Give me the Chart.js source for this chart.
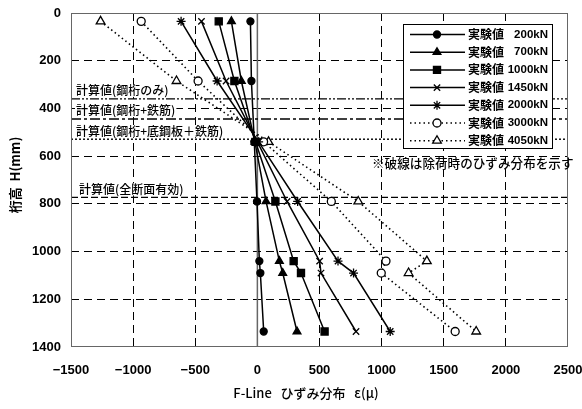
<!DOCTYPE html>
<html>
<head>
<meta charset="utf-8">
<script src="https://cdn.jsdelivr.net/npm/chart.js@4/dist/chart.umd.min.js"></script>
<style>
  html, body { margin: 0; padding: 0; background: #fff; }
  #wrap { width: 582px; height: 409px; }
</style>
</head>
<body>
<div id="wrap"><canvas id="myChart" width="582" height="409"></canvas></div>
<script>
// heights of the gauges (mm)
const heights = [35, 285, 540, 790, 1040, 1090, 1335];

// strain values (micro) per load step
const loads = ['200kN', '700kN', '1000kN', '1450kN', '2000kN', '3000kN', '4050kN'];
const s200  = [-56, -48, -25, -3, 16, 24, 51];
const s700  = [-209, -129, -20, 70, 177, 204, 319];
const s1000 = [-311, -185, -15, 145, 292, 351, 541];
const s1450 = [-450, -252, 0, 239, 501, 512, 794];
const s2000 = [-614, -324, 10, 324, 649, 774, 1069];
const s3000 = [-935, -477, 50, 595, 1035, 997, 1592];
const s4050 = [-1262, -651, 90, 812, 1364, 1217, 1761];

// calculated neutral axis positions (mm)
const refNames = ['計算値(鋼桁のみ)', '計算値(鋼桁+鉄筋)', '計算値(鋼桁+底鋼板＋鉄筋)', '計算値(全断面有効)'];
const refHeights = [360, 444, 529, 773];

const xTicks = [-1500, -1000, -500, 0, 500, 1000, 1500, 2000, 2500];
const yTicks = [0, 200, 400, 600, 800, 1000, 1200, 1400];

const JP = '"Noto Sans CJK JP", "Noto Sans", sans-serif';
const NUM = '"Liberation Sans", Arial, sans-serif';

function toPoints(values) {
    return values.map((v, i) => ({ x: v, y: heights[i] }));
}

const seriesValues = [s200, s700, s1000, s1450, s2000, s3000, s4050];
const markerStyles = ['circle', 'triangle', 'rect', 'crossRot', 'star', 'circle', 'triangle'];
const markerSizes = [3.5, 4.5, 5, 4.5, 4.5, 4, 5];

const datasets = seriesValues.map((vals, i) => {
    const dotted = i >= 5;
    return {
        label: '実験値 ' + loads[i],
        data: toPoints(vals),
        showLine: true,
        borderColor: '#000',
        borderWidth: dotted ? 1.6 : 1.5,
        borderDash: dotted ? [1.5, 3] : [],
        pointStyle: markerStyles[i],
        pointRadius: markerSizes[i],
        pointBorderWidth: 1.3,
        pointBorderColor: '#000',
        pointBackgroundColor: dotted ? '#fff' : '#000',
        isSeries: true
    };
});

const refDashes = [[9, 2, 2, 2, 2, 2], [10, 3, 3, 3], [2, 2], [7, 3]];
refHeights.forEach((h, i) => {
    datasets.push({
        label: refNames[i],
        data: [{ x: xTicks[0], y: h }, { x: xTicks[xTicks.length - 1], y: h }],
        showLine: true,
        borderColor: '#000',
        borderWidth: 1.4,
        borderDash: refDashes[i],
        pointRadius: 0,
        isSeries: false
    });
});

// zero strain line
datasets.push({
    label: 'zero',
    data: [{ x: 0, y: yTicks[0] }, { x: 0, y: yTicks[yTicks.length - 1] }],
    showLine: true,
    borderColor: '#666',
    borderWidth: 1.5,
    pointRadius: 0,
    isSeries: false
});

const decorPlugin = {
    id: 'decor',
    afterDatasetsDraw(chart) {
        const ctx = chart.ctx;
        const area = chart.chartArea;
        const ys = chart.scales.y;
        ctx.save();

        // frame
        ctx.strokeStyle = '#666';
        ctx.lineWidth = 1;
        ctx.setLineDash([]);
        ctx.strokeRect(area.left + 0.5, area.top + 0.5, area.right - area.left - 1, area.bottom - area.top - 1);

        // calculated value labels
        ctx.font = '500 12px ' + JP;
        ctx.textBaseline = 'middle';
        ctx.textAlign = 'left';
        const labelX = [76, 76, 76, 79];
        refHeights.forEach((h, i) => {
            const y = ys.getPixelForValue(h) - 8;
            const w = ctx.measureText(refNames[i]).width;
            ctx.fillStyle = '#fff';
            ctx.fillRect(labelX[i] - 1, y - 6, w + 2, 12);
            ctx.fillStyle = '#000';
            ctx.fillText(refNames[i], labelX[i], y);
        });

        // legend box
        const lx = 403, ly = 24, lw = 149, lh = 124;
        ctx.fillStyle = '#fff';
        ctx.fillRect(lx, ly, lw, lh);
        ctx.strokeStyle = '#000';
        ctx.lineWidth = 1;
        ctx.strokeRect(lx + 0.5, ly + 0.5, lw, lh);
        const series = chart.data.datasets.filter(d => d.isSeries);
        series.forEach((d, i) => {
            const y = ly + 10.5 + i * 17.7;
            ctx.strokeStyle = '#000';
            ctx.lineWidth = d.borderWidth;
            ctx.setLineDash(d.borderDash);
            ctx.beginPath();
            ctx.moveTo(lx + 7, y);
            ctx.lineTo(lx + 62, y);
            ctx.stroke();
            ctx.setLineDash([]);
            ctx.fillStyle = d.pointBackgroundColor;
            ctx.lineWidth = d.pointBorderWidth;
            Chart.helpers.drawPoint(ctx, {
                pointStyle: d.pointStyle,
                radius: d.pointRadius,
                rotation: 0,
                borderWidth: d.pointBorderWidth
            }, lx + 34, y);
            ctx.fillStyle = '#000';
            ctx.font = 'bold 12px ' + JP;
            ctx.textAlign = 'left';
            ctx.fillText('実験値', lx + 65, y);
            ctx.font = 'bold 11.5px ' + NUM;
            ctx.textAlign = 'right';
            ctx.fillText(loads[i], lx + 145, y);
        });

        // note
        ctx.fillStyle = '#000';
        ctx.font = '500 12.6px ' + JP;
        ctx.textAlign = 'left';
        ctx.fillText('※破線は除荷時のひずみ分布を示す', 372, 163);

        // axis titles
        ctx.font = '500 13px ' + JP;
        ctx.textAlign = 'center';
        ctx.fillText('F-Line   ひずみ分布   ε(μ)', 306, 393);
        ctx.save();
        ctx.translate(15, 175);
        ctx.rotate(-Math.PI / 2);
        ctx.font = 'bold 13px ' + JP;
        ctx.fillText('桁高  H(mm)', 0, 0);
        ctx.restore();

        ctx.restore();
    }
};

function gridColor(ctx, edges) {
    const v = ctx.tick ? ctx.tick.value : null;
    if (edges.includes(v)) return 'rgba(0,0,0,0)';
    return '#000';
}

const chartCtx = document.getElementById('myChart').getContext('2d');
new Chart(chartCtx, {
    type: 'scatter',
    data: { datasets: datasets },
    options: {
        responsive: false,
        animation: false,
        layout: { padding: { top: 13, right: 14, left: 0, bottom: 0 } },
        plugins: {
            legend: { display: false },
            tooltip: { enabled: false }
        },
        scales: {
            x: {
                type: 'linear',
                min: xTicks[0],
                max: xTicks[xTicks.length - 1],
                afterBuildTicks: s => { s.ticks = xTicks.map(v => ({ value: v })); },
                afterFit: s => {
                    s.height = 62;
                    s.paddingLeft = 0;
                    s.paddingRight = 0;
                },
                ticks: {
                    color: '#000',
                    padding: 16,
                    font: { family: NUM, size: 13, weight: 'bold' },
                    callback: v => String(v).replace('-', '−')
                },
                grid: {
                    drawTicks: false,
                    lineWidth: 1,
                    color: c => gridColor(c, [xTicks[0], 0, xTicks[xTicks.length - 1]])
                },
                border: { display: false, dash: [8, 5] }
            },
            y: {
                type: 'linear',
                reverse: true,
                min: yTicks[0],
                max: yTicks[yTicks.length - 1],
                afterBuildTicks: s => { s.ticks = yTicks.map(v => ({ value: v })); },
                afterFit: s => {
                    s.width = 71;
                    s.paddingTop = 0;
                    s.paddingBottom = 0;
                },
                ticks: {
                    color: '#000',
                    padding: 10,
                    font: { family: NUM, size: 13, weight: 'bold' },
                    callback: v => String(v)
                },
                grid: {
                    drawTicks: false,
                    lineWidth: 1,
                    color: c => gridColor(c, [yTicks[0], yTicks[yTicks.length - 1]])
                },
                border: { display: false, dash: [8, 5] }
            }
        }
    },
    plugins: [decorPlugin]
});
</script>
</body>
</html>
